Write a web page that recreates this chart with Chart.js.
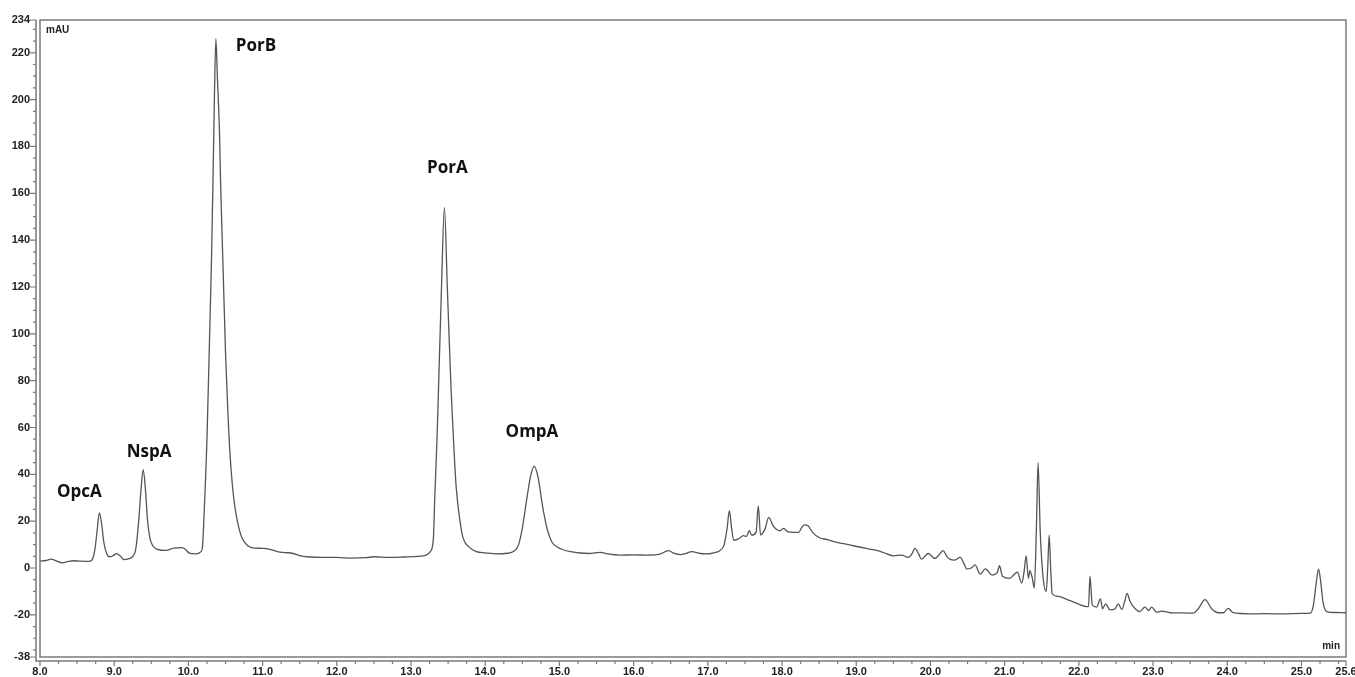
<!DOCTYPE html>
<html>
<head>
<meta charset="utf-8">
<script src="https://cdn.jsdelivr.net/npm/chart.js@4/dist/chart.umd.min.js"></script>
<style>
  html, body { margin: 0; padding: 0; background: #fff; }
  #wrap { width: 1355px; height: 677px; position: relative; }
</style>
</head>
<body>
<div id="wrap"><canvas id="c"></canvas></div>
<script>
// Retention time (min)
const timeMin = [
  8.00, 8.08, 8.15, 8.22, 8.30, 8.38, 8.45, 8.55, 8.65, 8.70,
  8.74, 8.77, 8.80, 8.83, 8.86, 8.90, 8.94, 8.98, 9.03, 9.08,
  9.13, 9.20, 9.25, 9.29, 9.33, 9.36, 9.39, 9.42, 9.45, 9.48,
  9.52, 9.58, 9.70, 9.80, 9.90, 9.95, 10.02, 10.10, 10.17, 10.19,
  10.21, 10.25, 10.28, 10.31, 10.33, 10.35, 10.37, 10.39, 10.42, 10.435,
  10.47, 10.50, 10.53, 10.56, 10.61, 10.66, 10.72, 10.80, 10.90, 11.00,
  11.10, 11.20, 11.30, 11.40, 11.50, 11.60, 11.80, 12.00, 12.20, 12.40,
  12.50, 12.70, 12.90, 13.10, 13.20, 13.26, 13.30, 13.32, 13.35, 13.37,
  13.41, 13.45, 13.49, 13.54, 13.58, 13.61, 13.66, 13.70, 13.78, 13.88,
  14.00, 14.15, 14.30, 14.38, 14.45, 14.50, 14.56, 14.61, 14.66, 14.71,
  14.78, 14.84, 14.90, 14.97, 15.05, 15.15, 15.28, 15.40, 15.55, 15.65,
  15.82, 16.00, 16.18, 16.35, 16.47, 16.55, 16.63, 16.72, 16.78, 16.90,
  16.98, 17.08, 17.16, 17.22, 17.26, 17.29, 17.32, 17.35, 17.42, 17.48,
  17.52, 17.56, 17.59, 17.65, 17.68, 17.71, 17.77, 17.82, 17.88, 17.94,
  17.97, 18.02, 18.08, 18.15, 18.22, 18.27, 18.30, 18.35, 18.42, 18.51,
  18.60, 18.74, 18.85, 18.96, 19.10, 19.23, 19.35, 19.50, 19.61, 19.70,
  19.75, 19.79, 19.84, 19.88, 19.97, 20.06, 20.12, 20.17, 20.22, 20.26,
  20.33, 20.40, 20.45, 20.49, 20.55, 20.60, 20.67, 20.74, 20.83, 20.90,
  20.93, 20.97, 21.07, 21.12, 21.17, 21.23, 21.26, 21.29, 21.32, 21.34,
  21.37, 21.40, 21.43, 21.45, 21.48, 21.52, 21.56, 21.58, 21.60, 21.62,
  21.64, 21.70, 21.88, 22.02, 22.10, 22.13, 22.15, 22.18, 22.24, 22.29,
  22.32, 22.36, 22.42, 22.49, 22.53, 22.58, 22.62, 22.65, 22.69, 22.76,
  22.82, 22.89, 22.94, 22.98, 23.05, 23.12, 23.23, 23.40, 23.54, 23.61,
  23.70, 23.79, 23.88, 23.95, 24.01, 24.08, 24.31, 24.50, 24.76, 25.00,
  25.12, 25.16, 25.20, 25.23, 25.26, 25.29, 25.34, 25.45, 25.60
];
// Absorbance (mAU)
const absorbance = [
  3.0, 3.2, 3.8, 3.0, 2.2, 2.8, 3.1, 2.9, 2.8, 3.4,
  8.0, 16.0, 23.5, 19.0, 11.0, 6.0, 4.8, 5.2, 6.1, 5.2,
  3.6, 4.0, 5.0, 8.0, 20.0, 33.0, 42.0, 34.0, 20.0, 13.0,
  9.5, 8.0, 7.5, 8.5, 8.7, 8.2, 6.2, 6.0, 7.0, 9.0,
  22.0, 55.0, 92.0, 130.0, 163.0, 200.0, 226.0, 210.0, 185.0, 163.0,
  125.0, 92.0, 68.0, 49.0, 30.0, 20.0, 13.0, 9.5, 8.5, 8.4,
  8.0, 7.0, 6.6, 6.3, 5.3, 4.8, 4.5, 4.5, 4.2, 4.4,
  4.8, 4.5, 4.7, 5.0, 5.5, 7.0, 12.0, 30.0, 55.0, 76.0,
  119.0, 154.0, 119.0, 76.0, 50.0, 34.0, 20.0, 13.0, 9.0, 7.0,
  6.5, 6.0, 6.3, 7.0, 10.0, 17.0, 29.5, 39.0, 43.5, 39.0,
  25.0, 16.0, 11.0, 9.0, 7.8, 7.0, 6.4, 6.2, 6.7, 6.0,
  5.5, 5.6, 5.5, 5.9, 7.4, 6.2, 5.7, 6.4, 7.0, 6.2,
  6.0, 6.5, 7.4, 10.0, 17.0, 24.5, 17.0, 11.8, 12.6, 13.8,
  13.5, 15.9, 14.0, 15.2, 26.5, 14.2, 16.6, 21.6, 18.0, 16.2,
  15.9, 16.9, 15.4, 15.2, 15.2, 17.5, 18.4, 18.0, 14.9, 12.8,
  12.2, 10.9, 10.3, 9.5, 8.6, 7.8, 6.8, 5.2, 5.5, 4.5,
  6.0, 8.4, 6.0, 3.8, 6.2, 4.1, 5.8, 7.4, 5.0, 3.8,
  3.4, 4.5, 2.0, -0.4, 0.0, 1.3, -2.6, -0.4, -3.0, -2.0,
  1.0, -3.5, -4.4, -3.0, -1.8, -6.4, -2.0, 5.2, -4.4, -1.1,
  -4.0, -8.6, 20.0, 45.0, 15.0, -4.7, -10.0, 0.0, 14.0, 0.0,
  -11.0, -12.0, -13.9, -15.7, -16.5, -16.5, -3.5, -15.7, -16.7, -13.2,
  -17.4, -15.3, -17.9, -17.4, -15.3, -17.7, -14.0, -10.8, -14.3, -17.4,
  -18.6, -16.7, -18.2, -16.7, -18.9, -18.4, -19.1, -19.2, -19.3, -17.4,
  -13.5, -17.4, -19.1, -19.1, -17.2, -19.1, -19.6, -19.5, -19.6, -19.4,
  -19.3, -16.0, -6.0, -0.5, -6.0, -14.6, -18.6, -19.0, -19.1
];

// Axis tick labels
const xTickValues = [8.0, 9.0, 10.0, 11.0, 12.0, 13.0, 14.0, 15.0, 16.0, 17.0,
                     18.0, 19.0, 20.0, 21.0, 22.0, 23.0, 24.0, 25.0, 25.6];
const yTickValues = [-38, -20, 0, 20, 40, 60, 80, 100, 120, 140, 160, 180, 200, 220, 234];

// Peak names and where their labels sit (time, mAU)
const peakNames  = ['OpcA', 'NspA', 'PorB', 'PorA', 'OmpA'];
const peakLabelT = [8.53, 9.47, 10.91, 13.49, 14.63];
const peakLabelV = [32.3, 49.4, 223.0, 170.6, 57.9];

const xMin = 8.0, xMax = 25.6, yMin = -38, yMax = 234;
const xMinorStep = 0.25, yMinorStep = 5;

const points = timeMin.map((t, i) => ({ x: t, y: absorbance[i] }));

const framePlugin = {
  id: 'frame',
  afterDraw(chart) {
    const { ctx, chartArea: a, scales: { x, y } } = chart;
    ctx.save();
    ctx.strokeStyle = '#7a7a7a';
    ctx.lineWidth = 1.5;
    ctx.strokeRect(a.left, a.top, a.right - a.left, a.bottom - a.top);
    const ax = a.left - 4, ay = a.bottom + 4;
    ctx.beginPath();
    ctx.moveTo(ax, a.top); ctx.lineTo(ax, ay); ctx.lineTo(a.right, ay);
    ctx.stroke();
    ctx.lineWidth = 1.2;
    ctx.beginPath();
    // y minor ticks
    for (let v = Math.ceil(yMin / yMinorStep) * yMinorStep; v <= yMax; v += yMinorStep) {
      const py = y.getPixelForValue(v);
      ctx.moveTo(ax, py); ctx.lineTo(ax - 3, py);
    }
    yTickValues.forEach(v => {
      const py = y.getPixelForValue(v);
      ctx.moveTo(ax, py); ctx.lineTo(ax - 6, py);
    });
    // x minor ticks
    for (let k = 0; xMin + k * xMinorStep <= xMax + 1e-9; k++) {
      const px = x.getPixelForValue(xMin + k * xMinorStep);
      ctx.moveTo(px, ay); ctx.lineTo(px, ay + 3);
    }
    xTickValues.forEach(v => {
      const px = x.getPixelForValue(v);
      ctx.moveTo(px, ay); ctx.lineTo(px, ay + 5);
    });
    ctx.stroke();

    ctx.fillStyle = '#222';
    ctx.font = 'bold 10px "Liberation Sans", Arial, sans-serif';
    ctx.textBaseline = 'middle';
    ctx.textAlign = 'left';
    ctx.fillText('mAU', a.left + 6, a.top + 10);
    ctx.textAlign = 'right';
    ctx.fillText('min', a.right - 6, a.bottom - 11);

    ctx.fillStyle = '#111';
    ctx.font = 'bold 17px "Open Sans", "Noto Sans", sans-serif';
    ctx.textAlign = 'center';
    peakNames.forEach((n, i) => {
      ctx.fillText(n, x.getPixelForValue(peakLabelT[i]), y.getPixelForValue(peakLabelV[i]));
    });
    ctx.restore();
  }
};

new Chart(document.getElementById('c'), {
  type: 'line',
  data: {
    datasets: [{
      data: points,
      borderColor: '#555555',
      borderWidth: 1.3,
      pointRadius: 0,
      cubicInterpolationMode: 'monotone',
      fill: false
    }]
  },
  options: {
    responsive: true,
    maintainAspectRatio: false,
    animation: false,
    layout: { padding: { top: 20, right: 9, left: 0, bottom: 0 } },
    plugins: { legend: { display: false }, tooltip: { enabled: false } },
    scales: {
      x: {
        type: 'linear',
        min: xMin, max: xMax,
        grid: { display: false, drawTicks: false },
        border: { display: false },
        afterBuildTicks: s => { s.ticks = xTickValues.map(v => ({ value: v })); },
        afterFit: s => { s.height = 20; s.paddingRight = 0; s.paddingLeft = 0; },
        ticks: {
          autoSkip: false, maxRotation: 0, padding: 8,
          color: '#222',
          font: { family: '"Liberation Sans", Arial, sans-serif', size: 11, weight: 'bold' },
          callback: v => Number(v).toFixed(1)
        }
      },
      y: {
        type: 'linear',
        min: yMin, max: yMax,
        grid: { display: false, drawTicks: false },
        border: { display: false },
        afterBuildTicks: s => { s.ticks = yTickValues.map(v => ({ value: v })); },
        afterFit: s => { s.width = 40; s.paddingTop = 0; s.paddingBottom = 0; },
        ticks: {
          autoSkip: false, padding: 10,
          color: '#222',
          font: { family: '"Liberation Sans", Arial, sans-serif', size: 11, weight: 'bold' },
          callback: v => String(v)
        }
      }
    }
  },
  plugins: [framePlugin]
});
</script>
</body>
</html>
